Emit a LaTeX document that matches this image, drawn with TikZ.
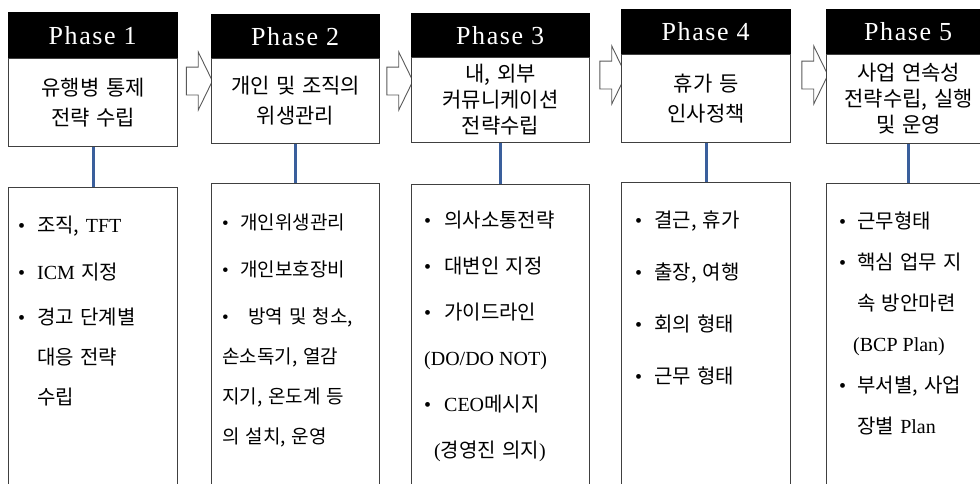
\documentclass[tikz,border=0pt]{standalone}
\usepackage{fontspec}
\setmainfont{Liberation Serif}
\newfontfamily\kr[WordSpace=1.4]{Noto Sans CJK KR}
\newfontfamily\phasefont[LetterSpace=6]{Liberation Serif}
\usepackage{xcolor}
\usepackage{tikz}
\usetikzlibrary{
  shapes.arrows,
}
\definecolor{edge}{HTML}{404040}
\definecolor{linkblue}{HTML}{3A5F9C}
\definecolor{arrowline}{HTML}{5A5A5A}
\newcommand\la[1]{{\rmfamily #1}}
\newcommand\bul[1][19pt]{\makebox[#1][l]{\la{•}}}
\tikzset{
  head/.style={
    fill=black,
    draw=black,
    text=white,
    anchor=north west,
    inner sep=0pt,
    font=\phasefont\fontsize{26}{26}\selectfont,
  },
  body/.style={
    draw=edge,
    line width=1.2pt,
    fill=white,
    anchor=north west,
    inner sep=0pt,
    align=center,
    font=\kr\fontsize{21}{30}\selectfont,
  },
  listbox/.style={draw=edge, line width=1.2pt, fill=white, anchor=north west},
  items/.style={anchor=north west, align=left, inner sep=0pt},
  link/.style={draw=linkblue, line width=3pt},
  blockarrow/.style={
    single arrow,
    draw=arrowline,
    fill=white,
    line width=0.9pt,
    minimum height=26pt,
    inner xsep=0pt,
    inner ysep=13.5pt,
    single arrow head extend=15pt,
    single arrow tip angle=128,
  },
}

\begin{document}
\begin{tikzpicture}[x=1pt,y=-1pt]
  \useasboundingbox (0,0) rectangle (980,483);
  \clip (0,0) rectangle (980,483);

  % phase 1
  \node[head, minimum width=169pt, minimum height=46pt] (ph1) at (8,12) {Phase 1};
  \node[body, minimum width=169pt, minimum height=88pt] (b1) at (8,58) {유행병 통제\\전략 수립};
  \node[listbox, minimum width=169pt, minimum height=313pt] (l1) at (8,187) {};
  \node[items, font=\kr\fontsize{20}{40}\selectfont] (t1) at (18,216)
    {\bul 조직, \la{TFT}\\[7pt]\bul \la{ICM} 지정\\[5pt]\bul 경고 단계별\\\hspace*{19pt}대응 전략\\\hspace*{19pt}수립};
  \draw[link] (b1.south) -- (l1.north);

  \node[blockarrow] (ar1) at (196,81) {};

  % phase 2
  \node[head, minimum width=168pt, minimum height=44pt] (ph2) at (211,14) {Phase 2};
  \node[body, minimum width=168pt, minimum height=85pt] (b2) at (211,58) {개인 및 조직의\\위생관리};
  \node[listbox, minimum width=168pt, minimum height=317pt] (l2) at (211,183) {};
  \node[items, font=\kr\fontsize{19}{40}\selectfont] (t2) at (222,214)
    {\bul[18pt]개인위생관리\\[7pt]\bul[18pt]개인보호장비\\[7pt]\bul[26pt]방역 및 청소,\\손소독기, 열감\\지기, 온도계 등\\의 설치, 운영};
  \draw[link] (b2.south) -- (l2.north);

  \node[blockarrow] (ar2) at (396.5,81) {};

  % phase 3
  \node[head, minimum width=178pt, minimum height=44pt] (ph3) at (411,13) {Phase 3};
  \node[body, minimum width=178pt, minimum height=85pt, font=\kr\fontsize{21}{26}\selectfont] (b3) at (411,57)
    {내, 외부\\커뮤니케이션\\전략수립};
  \node[listbox, minimum width=178pt, minimum height=316pt] (l3) at (411,184) {};
  \node[items, font=\kr\fontsize{20}{46}\selectfont] (t3) at (424,211)
    {\bul[20pt]의사소통전략\\\bul[20pt]대변인 지정\\\bul[20pt]가이드라인\\\la{(DO/DO NOT)}\\\bul[20pt]\la{CEO}메시지\\\hspace*{10pt}\la{(}경영진 의지\la{)}};
  \draw[link] (b3.south) -- (l3.north);

  \node[blockarrow] (ar3) at (609.5,75) {};

  % phase 4
  \node[head, minimum width=169pt, minimum height=45pt] (ph4) at (621,9) {Phase 4};
  \node[body, minimum width=169pt, minimum height=88pt] (b4) at (621,54) {휴가 등\\인사정책};
  \node[listbox, minimum width=169pt, minimum height=318pt] (l4) at (621,182) {};
  \node[items, font=\kr\fontsize{20}{52}\selectfont] (t4) at (635,211)
    {\bul 결근, 휴가\\\bul 출장, 여행\\\bul 회의 형태\\\bul 근무 형태};
  \draw[link] (b4.south) -- (l4.north);

  \node[blockarrow] (ar4) at (811.5,75) {};

  % phase 5 -- runs off the right edge
  \node[head, minimum width=164pt, minimum height=45pt] (ph5) at (826,9) {Phase 5};
  \node[body, minimum width=164pt, minimum height=89pt, font=\kr\fontsize{21}{26}\selectfont] (b5) at (826,54)
    {사업 연속성\\전략수립, 실행\\및 운영};
  \node[listbox, minimum width=164pt, minimum height=317pt] (l5) at (826,183) {};
  \node[items, font=\kr\fontsize{20}{41}\selectfont] (t5) at (839,212)
    {\bul[18pt]근무형태\\\bul[18pt]핵심 업무 지\\\hspace*{18pt}속 방안마련\\\hspace*{14pt}\la{(BCP Plan)}\\\bul[18pt]부서별, 사업\\\hspace*{18pt}장별 \la{Plan}};
  \draw[link] (b5.south) -- (l5.north);
\end{tikzpicture}
\end{document}
